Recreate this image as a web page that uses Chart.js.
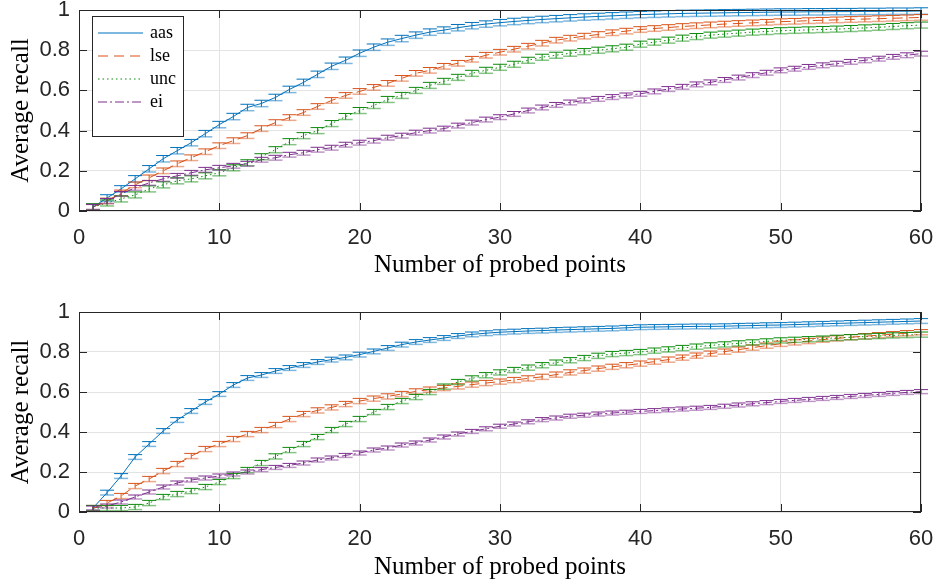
<!DOCTYPE html>
<html>
<head>
<meta charset="utf-8">
<script src="https://cdn.jsdelivr.net/npm/chart.js@4"></script>
<style>
  body { margin: 0; background: #fff; }
  #wrap { position: relative; width: 933px; height: 584px; }
  .box { position: absolute; left: 0; width: 933px; }
</style>
</head>
<body>
<div id="wrap">
  <div class="box" style="top:0;height:290px"><canvas id="topChart"></canvas></div>
  <div class="box" style="top:300px;height:284px"><canvas id="bottomChart"></canvas></div>
</div>
<script>
// number of probed points
const probes = [];
for (let i = 1; i <= 60; i++) probes.push(i);

const seriesNames = ['aas', 'lse', 'unc', 'ei'];
const xTicks = [0, 10, 20, 30, 40, 50, 60];
const yTicks = [0, 0.2, 0.4, 0.6, 0.8, 1];

// top panel - average recall
const aasTop = [0.02,0.065,0.11,0.16,0.21,0.26,0.30,0.34,0.385,0.43,0.47,0.515,0.535,0.565,0.605,0.64,0.68,0.72,0.75,0.785,
  0.815,0.84,0.858,0.875,0.89,0.90,0.912,0.922,0.93,0.937,0.943,0.948,0.953,0.957,0.961,0.965,0.968,0.971,0.974,0.977,
  0.979,0.981,0.983,0.984,0.985,0.986,0.987,0.988,0.989,0.99,0.99,0.991,0.991,0.992,0.992,0.993,0.993,0.994,0.994,0.995];
const lseTop = [0.02,0.05,0.09,0.13,0.165,0.2,0.235,0.265,0.295,0.325,0.35,0.375,0.41,0.44,0.465,0.49,0.52,0.55,0.575,0.595,
  0.615,0.635,0.66,0.685,0.70,0.72,0.735,0.755,0.775,0.79,0.805,0.82,0.835,0.85,0.86,0.87,0.878,0.887,0.895,0.903,
  0.908,0.913,0.918,0.922,0.926,0.93,0.933,0.936,0.939,0.942,0.944,0.947,0.949,0.951,0.953,0.955,0.957,0.959,0.961,0.963];
const uncTop = [0.02,0.04,0.06,0.08,0.11,0.13,0.15,0.16,0.175,0.19,0.215,0.24,0.27,0.305,0.345,0.375,0.40,0.435,0.47,0.50,
  0.525,0.555,0.575,0.60,0.625,0.645,0.665,0.685,0.70,0.715,0.73,0.75,0.765,0.775,0.785,0.793,0.80,0.807,0.815,0.83,
  0.84,0.85,0.86,0.868,0.875,0.88,0.885,0.89,0.893,0.897,0.899,0.901,0.903,0.905,0.908,0.911,0.914,0.918,0.922,0.925];
const eiTop = [0.02,0.05,0.085,0.115,0.14,0.16,0.175,0.19,0.205,0.215,0.225,0.235,0.255,0.265,0.28,0.29,0.305,0.315,0.33,0.34,
  0.35,0.365,0.375,0.39,0.40,0.41,0.425,0.44,0.455,0.467,0.483,0.50,0.515,0.528,0.54,0.55,0.558,0.567,0.575,0.583,
  0.595,0.607,0.618,0.63,0.64,0.652,0.664,0.676,0.688,0.70,0.708,0.717,0.725,0.733,0.742,0.75,0.758,0.767,0.775,0.783];

// bottom panel - average recall
const aasBottom = [0.02,0.097,0.18,0.275,0.34,0.405,0.46,0.505,0.55,0.59,0.635,0.67,0.685,0.705,0.72,0.735,0.75,0.762,0.773,0.787,
  0.803,0.82,0.837,0.85,0.86,0.87,0.88,0.888,0.894,0.899,0.902,0.905,0.907,0.91,0.912,0.914,0.916,0.918,0.921,0.924,
  0.925,0.926,0.927,0.928,0.928,0.929,0.931,0.932,0.934,0.935,0.937,0.939,0.941,0.943,0.945,0.947,0.949,0.951,0.953,0.955];
const lseBottom = [0.02,0.045,0.08,0.13,0.165,0.205,0.24,0.28,0.315,0.34,0.365,0.39,0.41,0.435,0.465,0.49,0.508,0.523,0.54,0.555,
  0.567,0.578,0.59,0.603,0.612,0.62,0.628,0.637,0.645,0.652,0.66,0.668,0.676,0.687,0.698,0.707,0.717,0.726,0.734,0.742,
  0.752,0.762,0.772,0.782,0.792,0.802,0.812,0.822,0.832,0.841,0.848,0.855,0.862,0.868,0.874,0.879,0.884,0.889,0.894,0.899];
const uncBottom = [0.02,0.02,0.02,0.025,0.045,0.075,0.09,0.105,0.125,0.15,0.18,0.21,0.245,0.278,0.31,0.34,0.375,0.41,0.44,0.465,
  0.50,0.525,0.555,0.575,0.60,0.627,0.65,0.668,0.684,0.698,0.71,0.722,0.734,0.747,0.759,0.77,0.781,0.79,0.795,0.80,
  0.807,0.813,0.82,0.827,0.833,0.838,0.843,0.848,0.853,0.858,0.861,0.864,0.867,0.871,0.874,0.877,0.88,0.883,0.885,0.887];
const eiBottom = [0.02,0.03,0.05,0.075,0.10,0.125,0.145,0.16,0.17,0.18,0.19,0.20,0.212,0.223,0.233,0.245,0.26,0.27,0.283,0.295,
  0.31,0.32,0.335,0.345,0.36,0.375,0.39,0.403,0.416,0.429,0.44,0.451,0.462,0.47,0.479,0.484,0.49,0.495,0.499,0.503,
  0.507,0.511,0.515,0.519,0.523,0.529,0.535,0.541,0.547,0.553,0.558,0.563,0.568,0.573,0.578,0.583,0.588,0.593,0.598,0.602];

// half height of the error bars, one per series (aas, lse, unc, ei)
const errTop = [0.016, 0.014, 0.015, 0.012];
const errBottom = [0.012, 0.013, 0.013, 0.010];

const colors = ['#0072BD', '#D95319', '#0b8a0b', '#7E2F8E'];
const lightColors = ['rgba(0,114,189,0.5)', 'rgba(217,83,25,0.5)', 'rgba(11,138,11,0.5)', 'rgba(126,47,142,0.5)'];
const dashes = [[], [10, 6], [1.5, 3], [9, 3, 2, 3]];

const tickFont = { family: '"Liberation Sans Narrow", "Liberation Sans", sans-serif', size: 22 };
const titleFont = { family: '"Liberation Serif", serif', size: 25 };

/*********************************************/

// draws the error bars at every probe
const errorBars = {
  id: 'errorBars',
  afterDatasetsDraw(chart) {
    const ctx = chart.ctx;
    const xs = chart.scales.x;
    const ys = chart.scales.y;
    const errs = chart.options.plugins.errorBars.errs;
    ctx.save();
    chart.data.datasets.forEach((ds, k) => {
      ctx.setLineDash([]);
      ds.data.forEach(pt => {
        const px = xs.getPixelForValue(pt.x);
        const l = xs.getPixelForValue(pt.x - 0.5);
        const r = xs.getPixelForValue(pt.x + 0.5);
        const hi = ys.getPixelForValue(pt.y + errs[k]);
        const lo = ys.getPixelForValue(pt.y - errs[k]);
        ctx.strokeStyle = colors[k];
        ctx.lineWidth = 1;
        ctx.beginPath();
        ctx.moveTo(px, hi); ctx.lineTo(px, lo);
        ctx.moveTo(l, hi); ctx.lineTo(r, hi);
        ctx.stroke();
        ctx.strokeStyle = lightColors[k];
        ctx.lineWidth = 1.5;
        ctx.beginPath();
        ctx.moveTo(l, lo); ctx.lineTo(r, lo);
        ctx.stroke();
      });
    });
    ctx.restore();
  }
};

// matlab style box with inward tick marks
const axisBox = {
  id: 'axisBox',
  afterDraw(chart) {
    const ctx = chart.ctx;
    const a = chart.chartArea;
    const xs = chart.scales.x;
    const ys = chart.scales.y;
    ctx.save();
    ctx.strokeStyle = '#262626';
    ctx.lineWidth = 1;
    ctx.strokeRect(a.left + 0.5, a.top + 0.5, a.right - a.left - 1, a.bottom - a.top - 1);
    ctx.beginPath();
    xTicks.forEach(v => {
      const p = Math.round(xs.getPixelForValue(v)) + 0.5;
      ctx.moveTo(p, a.bottom); ctx.lineTo(p, a.bottom - 8);
      ctx.moveTo(p, a.top); ctx.lineTo(p, a.top + 8);
    });
    yTicks.forEach(v => {
      const p = Math.round(ys.getPixelForValue(v)) + 0.5;
      ctx.moveTo(a.left, p); ctx.lineTo(a.left + 8, p);
      ctx.moveTo(a.right, p); ctx.lineTo(a.right - 8, p);
    });
    ctx.stroke();
    ctx.restore();
  }
};

// legend drawn inside the plot area like matlab's 'northwest'
const boxLegend = {
  id: 'boxLegend',
  afterDraw(chart) {
    if (!chart.options.plugins.boxLegend.show) return;
    const ctx = chart.ctx;
    ctx.save();
    ctx.fillStyle = '#fff';
    ctx.fillRect(92, 16, 92, 121);
    ctx.strokeStyle = '#262626';
    ctx.lineWidth = 1;
    ctx.strokeRect(92.5, 16.5, 91, 120);
    ctx.font = '18px "Liberation Serif", serif';
    ctx.textBaseline = 'middle';
    seriesNames.forEach((name, k) => {
      const y = 33 + k * 23;
      ctx.strokeStyle = colors[k];
      ctx.lineWidth = 1.2;
      ctx.setLineDash(dashes[k]);
      ctx.beginPath();
      ctx.moveTo(98, y); ctx.lineTo(143, y);
      ctx.stroke();
      ctx.setLineDash([]);
      ctx.fillStyle = '#000';
      ctx.fillText(name, 150, y);
    });
    ctx.restore();
  }
};

function makeDatasets(seriesList) {
  return seriesList.map((vals, k) => ({
    label: seriesNames[k],
    data: probes.map((p, i) => ({ x: p, y: vals[i] })),
    borderColor: colors[k],
    borderWidth: 1,
    borderDash: dashes[k],
    pointRadius: 0,
    fill: false,
    tension: 0
  }));
}

function panelChart(canvasId, seriesList, errs, padTop, xHeight, titlePad, showLegend) {
  const config = {
    type: 'line',
    data: { datasets: makeDatasets(seriesList) },
    options: {
      responsive: true,
      maintainAspectRatio: false,
      animation: false,
      layout: { padding: { top: padTop, right: 12, left: 0, bottom: 0 } },
      scales: {
        x: {
          type: 'linear',
          min: 0,
          max: 60,
          afterBuildTicks: s => { s.ticks = xTicks.map(v => ({ value: v })); },
          afterFit: s => { s.height = xHeight; s.paddingLeft = 0; s.paddingRight = 0; },
          grid: { color: '#e3e3e3', drawTicks: false },
          border: { display: false },
          ticks: { padding: 14, color: '#262626', font: tickFont, maxRotation: 0 },
          title: {
            display: true,
            text: 'Number of probed points',
            color: '#000',
            font: titleFont,
            padding: { top: 0, bottom: titlePad }
          }
        },
        y: {
          min: 0,
          max: 1,
          afterBuildTicks: s => { s.ticks = yTicks.map(v => ({ value: v })); },
          afterFit: s => { s.width = 79; s.paddingTop = 0; s.paddingBottom = 0; },
          grid: { color: '#e3e3e3', drawTicks: false },
          border: { display: false },
          ticks: {
            padding: 9,
            color: '#262626',
            font: tickFont,
            callback: v => String(Math.round(v * 10) / 10)
          },
          title: {
            display: true,
            text: 'Average recall',
            color: '#000',
            font: titleFont,
            padding: { top: 6, bottom: 0 }
          }
        }
      },
      plugins: {
        legend: { display: false },
        tooltip: { enabled: false },
        errorBars: { errs: errs },
        boxLegend: { show: showLegend }
      }
    },
    plugins: [errorBars, axisBox, boxLegend]
  };
  return new Chart(document.getElementById(canvasId), config);
}

/************** To Run Chart Functions *************/
panelChart('topChart', [aasTop, lseTop, uncTop, eiTop], errTop, 10, 79, 10, true);
panelChart('bottomChart', [aasBottom, lseBottom, uncBottom, eiBottom], errBottom, 12, 72, 2, false);
</script>
</body>
</html>
